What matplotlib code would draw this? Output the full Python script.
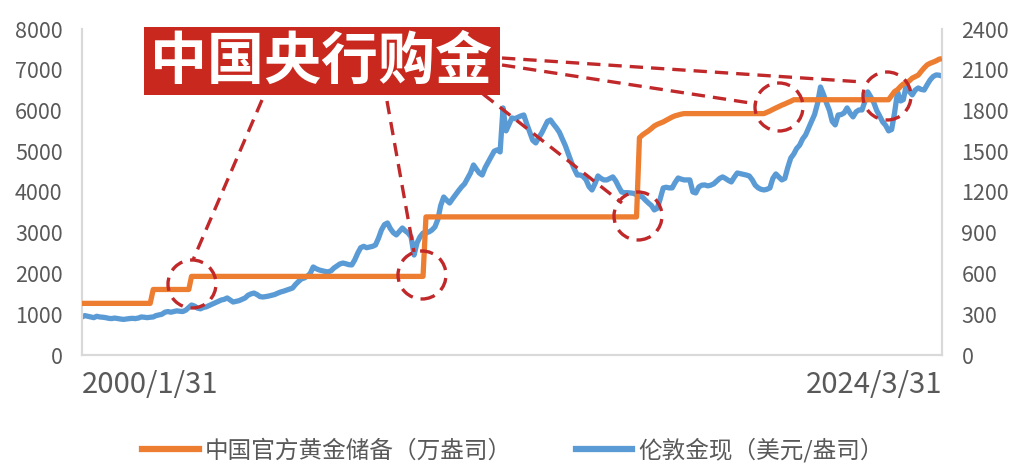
import pandas as pd
import matplotlib.pyplot as plt
from matplotlib.patches import Ellipse, Rectangle
from matplotlib.lines import Line2D

plt.rcParams['font.family'] = ['Noto Sans CJK SC', 'DejaVu Sans']

# 伦敦金现 (美元/盎司), month ends 2000/1 .. 2024/3
gold_2000 = [280, 290, 285, 280, 275, 285, 280, 278, 275, 270, 268, 272]
gold_2001 = [268, 265, 262, 265, 268, 270, 268, 272, 280, 278, 275, 278]
gold_2002 = [280, 290, 295, 300, 315, 320, 315, 320, 325, 322, 320, 330]
gold_2003 = [350, 368, 360, 345, 340, 350, 355, 365, 375, 385, 395, 405]
gold_2004 = [410, 420, 405, 390, 395, 400, 410, 420, 440, 450, 456, 445]
gold_2005 = [430, 427, 430, 434, 440, 445, 455, 464, 470, 478, 485, 493]
gold_2006 = [520, 540, 560, 567, 580, 600, 648, 635, 626, 620, 615, 612]
gold_2007 = [620, 640, 655, 670, 677, 672, 665, 663, 700, 750, 790, 800]
gold_2008 = [790, 795, 800, 810, 860, 920, 960, 972, 930, 900, 884, 910]
gold_2009 = [935, 915, 898, 870, 736, 825, 870, 898, 900, 906, 920, 943]
gold_2010 = [1000, 1100, 1163, 1140, 1119, 1150, 1180, 1210, 1237, 1260, 1300, 1340]
gold_2011 = [1399, 1370, 1340, 1325, 1380, 1420, 1460, 1500, 1510, 1495, 1819, 1650]
gold_2012 = [1700, 1745, 1740, 1750, 1760, 1767, 1700, 1640, 1580, 1561, 1600, 1635]
gold_2013 = [1680, 1720, 1730, 1700, 1672, 1640, 1590, 1540, 1480, 1420, 1370, 1325]
gold_2014 = [1325, 1315, 1290, 1240, 1215, 1260, 1318, 1300, 1289, 1289, 1300, 1311]
gold_2015 = [1280, 1240, 1200, 1195, 1195, 1193, 1190, 1180, 1170, 1163, 1140, 1119]
gold_2016 = [1100, 1068, 1080, 1150, 1230, 1235, 1230, 1230, 1270, 1303, 1295, 1289]
gold_2017 = [1289, 1289, 1200, 1193, 1237, 1250, 1252, 1245, 1250, 1260, 1280, 1300]
gold_2018 = [1311, 1300, 1285, 1274, 1310, 1340, 1335, 1330, 1325, 1318, 1290, 1250]
gold_2019 = [1230, 1220, 1215, 1220, 1230, 1300, 1333, 1310, 1289, 1300, 1380, 1450]
gold_2020 = [1480, 1520, 1545, 1590, 1620, 1670, 1720, 1770, 1850, 1973, 1920, 1856]
gold_2021 = [1800, 1720, 1694, 1767, 1770, 1782, 1819, 1780, 1753, 1790, 1804, 1804]
gold_2022 = [1870, 1937, 1900, 1860, 1800, 1760, 1716, 1690, 1650, 1660, 1782, 1937]
gold_2023 = [1870, 1880, 1988, 1940, 1915, 1950, 1966, 1955, 1951, 1990, 2025, 2050]
gold_2024 = [2062, 2060, 2054]

gold_price = (gold_2000 + gold_2001 + gold_2002 + gold_2003 + gold_2004 + gold_2005
              + gold_2006 + gold_2007 + gold_2008 + gold_2009 + gold_2010 + gold_2011
              + gold_2012 + gold_2013 + gold_2014 + gold_2015 + gold_2016 + gold_2017
              + gold_2018 + gold_2019 + gold_2020 + gold_2021 + gold_2022 + gold_2023
              + gold_2024)
gold_dates = pd.date_range("2000-01-31", "2024-03-31", freq="ME")

# 中国官方黄金储备 (万盎司), points where the line bends
reserve_dates = ["2000-01-31", "2001-12-31", "2002-01-31", "2003-01-31", "2003-02-28",
                 "2009-08-31", "2009-09-30", "2015-08-31", "2015-09-30", "2015-10-31",
                 "2015-11-30", "2015-12-31", "2016-01-31", "2016-02-29", "2016-03-31",
                 "2016-04-30", "2016-05-31", "2016-06-30", "2016-07-31", "2016-08-31",
                 "2016-09-30", "2016-10-31", "2016-11-30", "2016-12-31", "2019-03-31",
                 "2019-04-30", "2019-05-31", "2019-06-30", "2019-07-31", "2019-08-31",
                 "2019-09-30", "2019-10-31", "2019-11-30", "2019-12-31", "2020-01-31",
                 "2022-09-30", "2022-10-31", "2022-11-30", "2022-12-31", "2023-01-31",
                 "2023-02-28", "2023-03-31", "2023-04-30", "2023-05-31", "2023-06-30",
                 "2023-07-31", "2023-08-31", "2023-09-30", "2023-10-31", "2023-11-30",
                 "2023-12-31", "2024-01-31", "2024-02-29", "2024-03-31"]
reserve_values = [1267, 1267, 1608, 1608, 1929,
                  1929, 3389, 3389, 5332, 5400,
                  5450, 5500, 5560, 5620, 5660,
                  5690, 5720, 5760, 5800, 5840,
                  5870, 5890, 5910, 5924, 5924,
                  5956, 5988, 6026, 6062, 6097,
                  6131, 6161, 6194, 6226, 6264,
                  6264, 6367, 6464, 6512, 6592,
                  6650, 6676, 6727, 6795, 6830,
                  6869, 6962, 7046, 7120, 7158,
                  7187, 7219, 7258, 7274]
reserve_dates = pd.to_datetime(reserve_dates)

orange = "#ED7D31"
blue = "#5B9BD5"
grey = "#595959"
red = "#C0282A"

W, H = 1026, 472
fig = plt.figure(figsize=(W / 100, H / 100), dpi=100)
ax = fig.add_axes([82 / W, 1 - 355 / H, 860 / W, 326 / H])
ax2 = ax.twinx()

ax.plot(reserve_dates, reserve_values, color=orange, lw=3.8, solid_capstyle="butt", zorder=3)
ax2.plot(gold_dates, gold_price, color=blue, lw=3.8, solid_joinstyle="round", zorder=2)
ax.set_zorder(ax2.get_zorder() + 1)
ax.patch.set_visible(False)

ax.set_xlim(gold_dates[0], gold_dates[-1])
ax.set_ylim(0, 8000)
ax2.set_ylim(0, 2400)
ax.set_yticks(range(0, 8001, 1000))
ax2.set_yticks(range(0, 2401, 300))

for a in (ax, ax2):
    a.tick_params(length=0, labelsize=15.5, labelcolor=grey)
    for s in a.spines.values():
        s.set_color("#D9D9D9")
        s.set_linewidth(1.5)
    a.spines["top"].set_visible(False)
ax.tick_params(axis="y", pad=14)
ax2.tick_params(axis="y", pad=14)
ax.tick_params(axis="x", pad=11, labelsize=21)

ax.set_xticks([gold_dates[0], gold_dates[-1]])
ax.set_xticklabels(["2000/1/31", "2024/3/31"], fontweight="light")
xl = ax.get_xticklabels()
xl[0].set_ha("left")
xl[1].set_ha("right")

# title box
fig.patches.append(Rectangle((144 / W, 1 - 95 / H), 356 / W, 68 / H, transform=fig.transFigure,
                             facecolor="#C8281E", edgecolor="none", zorder=10))
fig.text(321 / W, 1 - 62 / H, "中国央行购金", color="white", fontsize=41, fontweight="black",
         ha="center", va="center", zorder=11)

# dashed circles and leader lines
dash = (0, (4, 2.4))
circles = [(192, 284), (422, 275), (638, 216), (779, 107), (887, 96)]
for cx, cy in circles:
    fig.patches.append(Ellipse((cx / W, 1 - cy / H), 48 / W, 48 / H, transform=fig.transFigure,
                               fill=False, edgecolor=red, lw=2.4, ls=dash, zorder=9))
leaders = [((262, 100), (193, 260)), ((387, 101), (414, 252)), ((483, 94), (622, 203)),
           ((502, 58), (863, 82)), ((502, 65), (757, 104))]
for (x0, y0), (x1, y1) in leaders:
    fig.lines.append(Line2D([x0 / W, x1 / W], [1 - y0 / H, 1 - y1 / H], transform=fig.transFigure,
                            color=red, lw=2.4, ls=dash, zorder=9))

handles = [Line2D([], [], color=orange, lw=4.5), Line2D([], [], color=blue, lw=4.5)]
fig.legend(handles, ["中国官方黄金储备（万盎司）", "伦敦金现（美元/盎司）"], loc="center",
           bbox_to_anchor=(0.5, 1 - 450 / H), ncol=2, frameon=False, fontsize=17,
           labelcolor=grey, handlelength=2.4, handletextpad=0.25, columnspacing=2.7)

fig.savefig("out.png", dpi=100)
